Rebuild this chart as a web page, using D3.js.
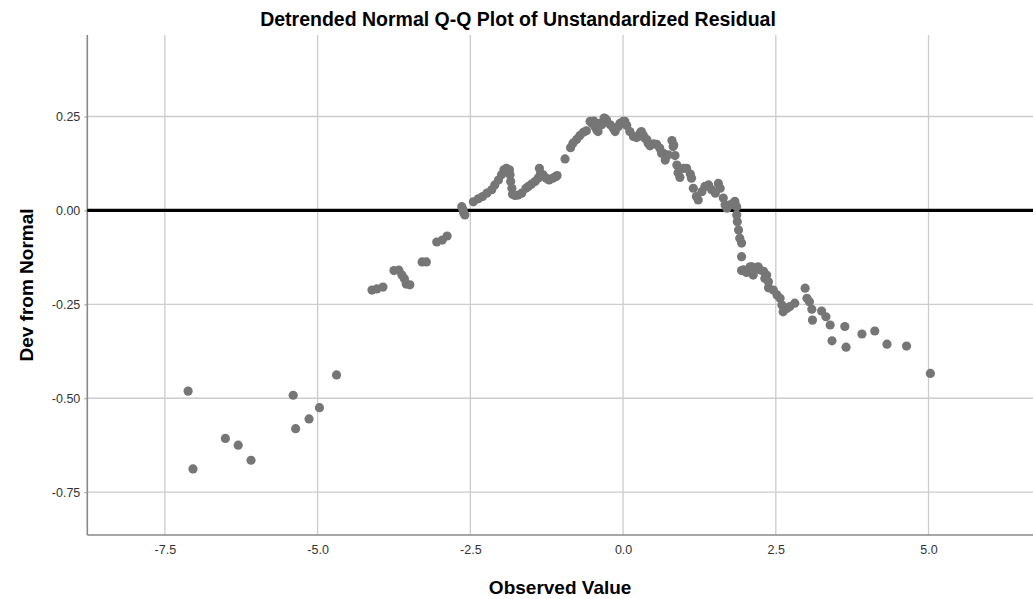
<!DOCTYPE html>
<html>
<head>
<meta charset="utf-8">
<script src="https://cdn.jsdelivr.net/npm/d3@7"></script>
<style>
  html, body { margin: 0; padding: 0; background: #fff; }
  svg { display: block; font-family: "Liberation Sans", Arial, sans-serif; }
</style>
</head>
<body>
<svg id="chart" width="1033" height="599"></svg>
<script>
// Observed residual values (sorted) and their deviation from the normal expectation
const observed = [
  -7.12, -7.04, -6.51, -6.30, -6.09, -5.40, -5.36, -5.14, -4.97, -4.69,
  -4.11, -4.03, -3.93, -3.75, -3.67, -3.62, -3.58, -3.55, -3.49, -3.29,
  -3.22, -3.05, -2.96, -2.88, -2.64, -2.62, -2.61, -2.59, -2.45, -2.37,
  -2.30, -2.23, -2.15, -2.10, -2.04, -1.99, -1.95, -1.91, -1.86, -1.85,
  -1.84, -1.82, -1.81, -1.77, -1.72, -1.66, -1.59, -1.55, -1.50, -1.44,
  -1.39, -1.37, -1.35, -1.31, -1.26, -1.21, -1.15, -1.10, -1.08, -0.95,
  -0.86, -0.82, -0.76, -0.71, -0.65, -0.60, -0.54, -0.51, -0.48, -0.46,
  -0.43, -0.41, -0.38, -0.35, -0.31, -0.30, -0.27, -0.21, -0.16, -0.13,
  -0.12, -0.08, -0.05, -0.02, 0.00, 0.03, 0.06, 0.11, 0.17, 0.22,
  0.25, 0.28, 0.30, 0.33, 0.36, 0.39, 0.41, 0.44, 0.50, 0.55,
  0.60, 0.63, 0.66, 0.69, 0.74, 0.80, 0.82, 0.83, 0.85, 0.88,
  0.90, 0.93, 0.99, 1.04, 1.10, 1.12, 1.15, 1.20, 1.23, 1.29,
  1.34, 1.40, 1.45, 1.51, 1.56, 1.59, 1.64, 1.67, 1.70, 1.75,
  1.80, 1.83, 1.86, 1.86, 1.87, 1.89, 1.91, 1.94, 1.94, 1.94,
  1.97, 2.02, 2.08, 2.11, 2.13, 2.19, 2.21, 2.24, 2.30, 2.32,
  2.35, 2.38, 2.38, 2.46, 2.52, 2.57, 2.60, 2.62, 2.68, 2.73,
  2.81, 2.98, 3.01, 3.05, 3.09, 3.10, 3.25, 3.32, 3.39, 3.42,
  3.63, 3.65, 3.91, 4.12, 4.32, 4.64, 5.03
];
const deviation = [
  -0.481, -0.688, -0.607, -0.625, -0.665, -0.492, -0.581, -0.555, -0.525, -0.438,
  -0.212, -0.209, -0.204, -0.160, -0.159, -0.172, -0.182, -0.196, -0.198, -0.137,
  -0.137, -0.084, -0.079, -0.068, 0.010, 0.002, -0.006, -0.012, 0.023, 0.031,
  0.037, 0.046, 0.055, 0.068, 0.081, 0.095, 0.108, 0.112, 0.108, 0.095,
  0.077, 0.059, 0.043, 0.040, 0.041, 0.046, 0.059, 0.064, 0.070, 0.077,
  0.086, 0.112, 0.099, 0.095, 0.086, 0.081, 0.086, 0.090, 0.093, 0.137,
  0.167, 0.179, 0.189, 0.199, 0.208, 0.212, 0.237, 0.232, 0.238, 0.223,
  0.214, 0.210, 0.232, 0.228, 0.246, 0.245, 0.241, 0.228, 0.219, 0.210,
  0.219, 0.223, 0.232, 0.232, 0.237, 0.237, 0.226, 0.210, 0.197, 0.194,
  0.197, 0.206, 0.210, 0.201, 0.192, 0.188, 0.179, 0.172, 0.177, 0.176,
  0.166, 0.152, 0.152, 0.134, 0.148, 0.186, 0.170, 0.174, 0.146, 0.121,
  0.100, 0.088, 0.112, 0.112, 0.097, 0.086, 0.059, 0.037, 0.028, 0.050,
  0.064, 0.068, 0.055, 0.046, 0.072, 0.059, 0.033, 0.015, 0.006, 0.015,
  0.019, 0.024, 0.010, -0.012, -0.030, -0.052, -0.074, -0.087, -0.123, -0.160,
  -0.158, -0.165, -0.150, -0.150, -0.172, -0.154, -0.150, -0.158, -0.162, -0.181,
  -0.172, -0.190, -0.206, -0.212, -0.225, -0.234, -0.252, -0.270, -0.261, -0.256,
  -0.247, -0.207, -0.234, -0.243, -0.263, -0.292, -0.268, -0.283, -0.305, -0.347,
  -0.309, -0.364, -0.329, -0.321, -0.356, -0.361, -0.434
];

const xTicks = [-7.5, -5.0, -2.5, 0.0, 2.5, 5.0];
const yTicks = [0.25, 0.00, -0.25, -0.50, -0.75];

const titleText = "Detrended Normal Q-Q Plot of Unstandardized Residual";
const xTitle = "Observed Value";
const yTitle = "Dev from Normal";

const svg = d3.select("#chart");
const plotLeft = 87.3, plotRight = 1033, plotTop = 35, plotBottom = 535;

const x = d3.scaleLinear().domain([-8.77, 6.71]).range([plotLeft, plotRight]);
const y = d3.scaleLinear().domain([-0.864, 0.467]).range([plotBottom, plotTop]);

// tick labels use a plain hyphen for negatives
const locale = d3.formatLocale({ decimal: ".", thousands: ",", grouping: [3], currency: ["", ""], minus: "-" });

// gridlines
const grid = svg.append("g");
grid.selectAll("line.vg").data(xTicks).join("line")
  .attr("class", "vg")
  .attr("x1", d => x(d)).attr("x2", d => x(d))
  .attr("y1", plotTop).attr("y2", plotBottom)
  .attr("stroke", "#cccccc").attr("stroke-width", 1.3);
grid.selectAll("line.hg").data(yTicks).join("line")
  .attr("class", "hg")
  .attr("x1", plotLeft).attr("x2", plotRight)
  .attr("y1", d => y(d)).attr("y2", d => y(d))
  .attr("stroke", "#cccccc").attr("stroke-width", 1.3);

// axes
const yAxis = d3.axisLeft(y).tickValues(yTicks).tickFormat(locale.format(".2f")).tickSize(3).tickPadding(4);
const xAxis = d3.axisBottom(x).tickValues(xTicks).tickFormat(locale.format(".1f")).tickSize(0).tickPadding(10);

const gy = svg.append("g").attr("transform", `translate(${plotLeft},0)`).call(yAxis);
const gx = svg.append("g").attr("transform", `translate(0,${plotBottom})`).call(xAxis);

[gx, gy].forEach(g => {
  g.select(".domain").attr("stroke", "#888").attr("stroke-width", 1.6);
  g.selectAll(".tick line").attr("stroke", "#999");
  g.selectAll(".tick text")
    .attr("fill", "#333")
    .style("font-size", "12.5px")
    .style("font-family", "'Liberation Sans', Arial, sans-serif");
});
gy.select(".domain").attr("d", `M0,${plotTop}V${plotBottom}`);
gx.select(".domain").attr("d", `M${plotLeft},0H${plotRight}`);

// reference line at zero deviation
svg.append("line")
  .attr("x1", plotLeft).attr("x2", plotRight)
  .attr("y1", y(0)).attr("y2", y(0))
  .attr("stroke", "#000").attr("stroke-width", 3.2);

// points
const pts = observed.map((v, i) => ({ v, d: deviation[i] }));
svg.append("g").selectAll("circle").data(pts).join("circle")
  .attr("cx", p => x(p.v))
  .attr("cy", p => y(p.d))
  .attr("r", 4.6)
  .attr("fill", "#767676");

// titles
svg.append("text")
  .attr("x", 518).attr("y", 26)
  .attr("text-anchor", "middle")
  .style("font-size", "19.5px").style("font-weight", "bold")
  .text(titleText);

svg.append("text")
  .attr("x", (plotLeft + plotRight) / 2).attr("y", 594)
  .attr("text-anchor", "middle")
  .style("font-size", "19px").style("font-weight", "bold")
  .text(xTitle);

svg.append("text")
  .attr("transform", `translate(33,${(plotTop + plotBottom) / 2}) rotate(-90)`)
  .attr("text-anchor", "middle")
  .style("font-size", "19px").style("font-weight", "bold")
  .text(yTitle);
</script>
</body>
</html>
